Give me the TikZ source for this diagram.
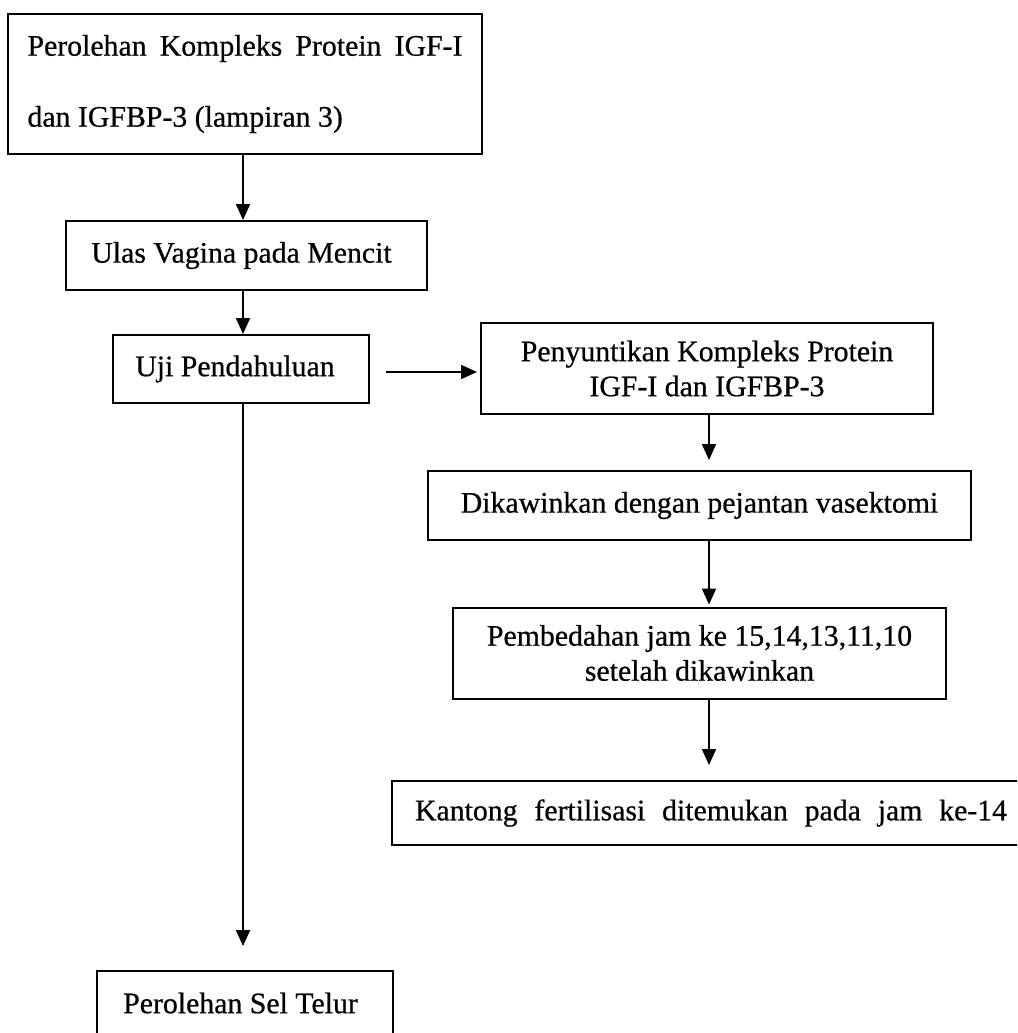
\documentclass[tikz,border=0pt]{standalone}
\usepackage{fontspec}
\setmainfont[FakeBold=0.6]{Liberation Serif}
\usetikzlibrary{arrows.meta}
\begin{document}
\begin{tikzpicture}[x=1pt,y=-1pt,
  box/.style={draw, line width=2pt, inner sep=0pt, align=center,
    font=\fontsize{29.8pt}{35pt}\selectfont},
  arr/.style={line width=2pt, -{Triangle[length=16pt,width=14pt]}}]
\clip (0,0) rectangle (1017,1033);
\fill[white] (0,0) rectangle (1017,1033);
% column guides
\coordinate (c1) at (243,0);
\coordinate (c2) at (709,0);
\coordinate (hy) at (0,372);
% boxes
\node[box, minimum width=474pt, minimum height=139pt] (b1) at (245,84)
  {\makebox[435pt][s]{Perolehan Kompleks Protein IGF-I}\\[36pt]\makebox[435pt][l]{dan IGFBP-3 (lampiran 3)}};
\node[box, minimum width=361pt, minimum height=69pt] (b2) at (246.5,255.5)
  {\hspace*{-10pt}Ulas Vagina pada Mencit};
\node[box, minimum width=256pt, minimum height=68pt] (b3) at (241,369)
  {\hspace*{-12pt}\raisebox{4pt}{Uji Pendahuluan}};
\node[box, minimum width=452pt, minimum height=91pt] (b4) at (707,368.5)
  {Penyuntikan Kompleks Protein\\IGF-I dan IGFBP-3};
\node[box, minimum width=543pt, minimum height=69pt] (b5) at (699.5,505.5)
  {Dikawinkan dengan pejantan vasektomi};
\node[box, minimum width=493pt, minimum height=91pt] (b6) at (699.5,653)
  {Pembedahan jam ke 15,14,13,11,10\\setelah dikawinkan};
\node[box, minimum width=638pt, minimum height=64pt] (b7) at (711,813)
  {\makebox[592pt][s]{Kantong fertilisasi ditemukan pada jam ke-14}};
\node[box, minimum width=296pt, minimum height=64pt] (b8) at (245,1003)
  {\hspace*{-9pt}Perolehan Sel Telur};
% connectors
\draw[arr] (b1.south -| c1) -- (b2.north -| c1);
\draw[arr] (b2.south -| c1) -- (b3.north -| c1);
\draw[arr, shorten >=24pt] (b3.south -| c1) -- (b8.north -| c1);
\draw[arr, shorten <=16pt, shorten >=3pt] (b3.east |- hy) -- (b4.west |- hy);
\draw[arr, shorten >=10pt] (b4.south -| c2) -- (b5.north -| c2);
\draw[arr, shorten >=2pt] (b5.south -| c2) -- (b6.north -| c2);
\draw[arr, shorten >=15pt] (b6.south -| c2) -- (b7.north -| c2);
\end{tikzpicture}
\end{document}
